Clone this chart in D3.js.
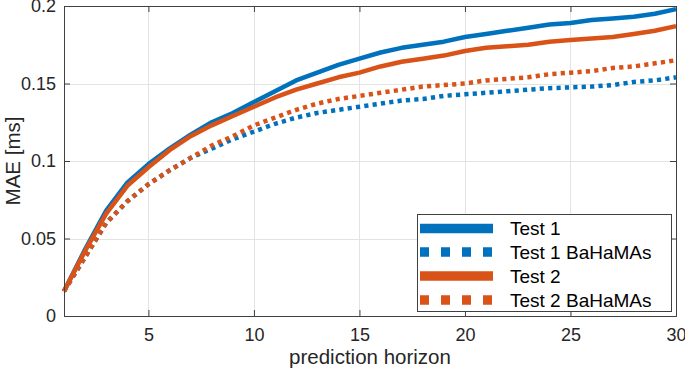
<!DOCTYPE html>
<html lang="en">
<head>
  <meta charset="UTF-8">
  <title>MAE vs prediction horizon</title>
  <script src="https://cdnjs.cloudflare.com/ajax/libs/d3/7.8.5/d3.min.js"></script>
  <style>
    * { margin: 0; padding: 0; box-sizing: border-box; }
    body { background: #ffffff; width: 685px; height: 371px; overflow: hidden; }
    svg { display: block; font-family: "Liberation Sans", Arial, sans-serif; }
    .tick-label { font-size: 18px; fill: #262626; }
    .axis-label { font-size: 20.5px; fill: #262626; }
    .legend-text { font-size: 19px; fill: #000; }
  </style>
</head>
<body>
<div id="chart"></div>
<script>
  // Data
  const horizon = d3.range(1, 31);
  const test1 = [0.016, 0.043, 0.068, 0.086, 0.098, 0.108, 0.117, 0.125, 0.131, 0.138,
                 0.145, 0.152, 0.157, 0.162, 0.166, 0.170, 0.173, 0.175, 0.177, 0.180,
                 0.182, 0.184, 0.186, 0.188, 0.189, 0.191, 0.192, 0.193, 0.195, 0.198];
  const test1Bahamas = [0.016, 0.038, 0.060, 0.074, 0.085, 0.094, 0.102, 0.108, 0.114, 0.119,
                        0.124, 0.128, 0.131, 0.133, 0.135, 0.137, 0.139, 0.140, 0.142, 0.143,
                        0.144, 0.145, 0.146, 0.147, 0.1475, 0.148, 0.149, 0.151, 0.152, 0.154];
  const test2 = [0.016, 0.042, 0.066, 0.084, 0.096, 0.107, 0.116, 0.123, 0.129, 0.135,
                 0.141, 0.146, 0.150, 0.154, 0.157, 0.161, 0.164, 0.166, 0.168, 0.171,
                 0.173, 0.174, 0.175, 0.177, 0.178, 0.179, 0.180, 0.182, 0.184, 0.187];
  const test2Bahamas = [0.016, 0.038, 0.060, 0.074, 0.085, 0.094, 0.102, 0.110, 0.116, 0.123,
                        0.128, 0.133, 0.137, 0.140, 0.142, 0.144, 0.146, 0.148, 0.149, 0.150,
                        0.152, 0.153, 0.154, 0.156, 0.157, 0.158, 0.160, 0.161, 0.163, 0.165];

  const xTicks = [5, 10, 15, 20, 25, 30];
  const yTicks = [0, 0.05, 0.1, 0.15, 0.2];
  const yTickLabels = ["0", "0.05", "0.1", "0.15", "0.2"];

  const seriesNames = ["Test 1", "Test 1 BaHaMAs", "Test 2", "Test 2 BaHaMAs"];
  const seriesValues = [test1, test1Bahamas, test2, test2Bahamas];
  const seriesColors = ["#0072BD", "#0072BD", "#D95319", "#D95319"];
  const seriesDotted = [false, true, false, true];

  const W = 685, H = 371;
  const margin = {top: 6, right: 9, bottom: 55, left: 64};
  const width = W - margin.left - margin.right;
  const height = H - margin.top - margin.bottom;

  const svg = d3.select("#chart").append("svg")
    .attr("width", W).attr("height", H);

  const g = svg.append("g")
    .attr("transform", `translate(${margin.left},${margin.top})`);

  const x = d3.scaleLinear().domain([1, 30]).range([0, width]);
  const y = d3.scaleLinear().domain([0, 0.2]).range([height, 0]);

  // grid
  g.append("g").selectAll("line").data(xTicks).join("line")
    .attr("x1", d => Math.round(x(d)) + 0.5).attr("x2", d => Math.round(x(d)) + 0.5)
    .attr("y1", 0).attr("y2", height)
    .attr("stroke", "#e3e3e3").attr("stroke-width", 1);
  g.append("g").selectAll("line").data(yTicks).join("line")
    .attr("y1", d => Math.round(y(d)) + 0.5).attr("y2", d => Math.round(y(d)) + 0.5)
    .attr("x1", 0).attr("x2", width)
    .attr("stroke", "#e3e3e3").attr("stroke-width", 1);

  // lines
  const line = d3.line()
    .x((d, i) => x(horizon[i]))
    .y(d => y(d));

  g.append("g").selectAll("path").data(seriesValues).join("path")
    .attr("d", d => line(d))
    .attr("fill", "none")
    .attr("stroke", (d, i) => seriesColors[i])
    .attr("stroke-width", 4.5)
    .attr("stroke-linejoin", "round")
    .attr("stroke-dasharray", (d, i) => seriesDotted[i] ? "4.2,4.2" : null);

  // axes box with inward ticks
  const tickLen = 6;
  const axisColor = "#404040";
  const xAxisB = d3.axisBottom(x).tickValues(xTicks).tickSize(-tickLen).tickPadding(12)
    .tickFormat(d3.format("d"));
  const xAxisT = d3.axisTop(x).tickValues(xTicks).tickSize(-tickLen).tickFormat("");
  const yAxisL = d3.axisLeft(y).tickValues(yTicks).tickSize(-tickLen).tickPadding(8)
    .tickFormat((d, i) => yTickLabels[i]);
  const yAxisR = d3.axisRight(y).tickValues(yTicks).tickSize(-tickLen).tickFormat("");

  function styleAxis(sel) {
    sel.select(".domain").attr("stroke", axisColor);
    sel.selectAll(".tick line").attr("stroke", axisColor);
    sel.selectAll(".tick text").attr("class", "tick-label").attr("font-family", null).attr("font-size", null);
    sel.attr("font-family", null).attr("font-size", null);
  }

  g.append("g").attr("transform", `translate(0,${height})`).call(xAxisB).call(styleAxis);
  g.append("g").call(xAxisT).call(styleAxis);
  g.append("g").call(yAxisL).call(styleAxis);
  g.append("g").attr("transform", `translate(${width},0)`).call(yAxisR).call(styleAxis);

  // axis labels
  svg.append("text").attr("class", "axis-label")
    .attr("text-anchor", "middle")
    .attr("x", margin.left + width / 2).attr("y", 364)
    .text("prediction horizon");
  svg.append("text").attr("class", "axis-label")
    .attr("text-anchor", "middle")
    .attr("transform", `translate(20,${margin.top + height / 2}) rotate(-90)`)
    .text("MAE [ms]");

  // legend
  const leg = svg.append("g").attr("transform", "translate(417,214)");
  leg.append("rect")
    .attr("x", 0.5).attr("y", 0.5).attr("width", 254).attr("height", 97)
    .attr("fill", "#fff").attr("stroke", axisColor).attr("stroke-width", 1);
  const rowY = [14.5, 38, 62, 86];
  const rows = leg.selectAll("g.row").data(seriesNames).join("g")
    .attr("class", "row")
    .attr("transform", (d, i) => `translate(0,${rowY[i]})`);
  rows.append("line")
    .attr("x1", 3).attr("x2", 76).attr("y1", 0).attr("y2", 0)
    .attr("stroke", (d, i) => seriesColors[i])
    .attr("stroke-width", 9.5)
    .attr("stroke-dasharray", (d, i) => seriesDotted[i] ? "9,12" : null);
  rows.append("text").attr("class", "legend-text")
    .attr("x", 93).attr("y", 6.8)
    .text(d => d);
</script>
</body>
</html>
